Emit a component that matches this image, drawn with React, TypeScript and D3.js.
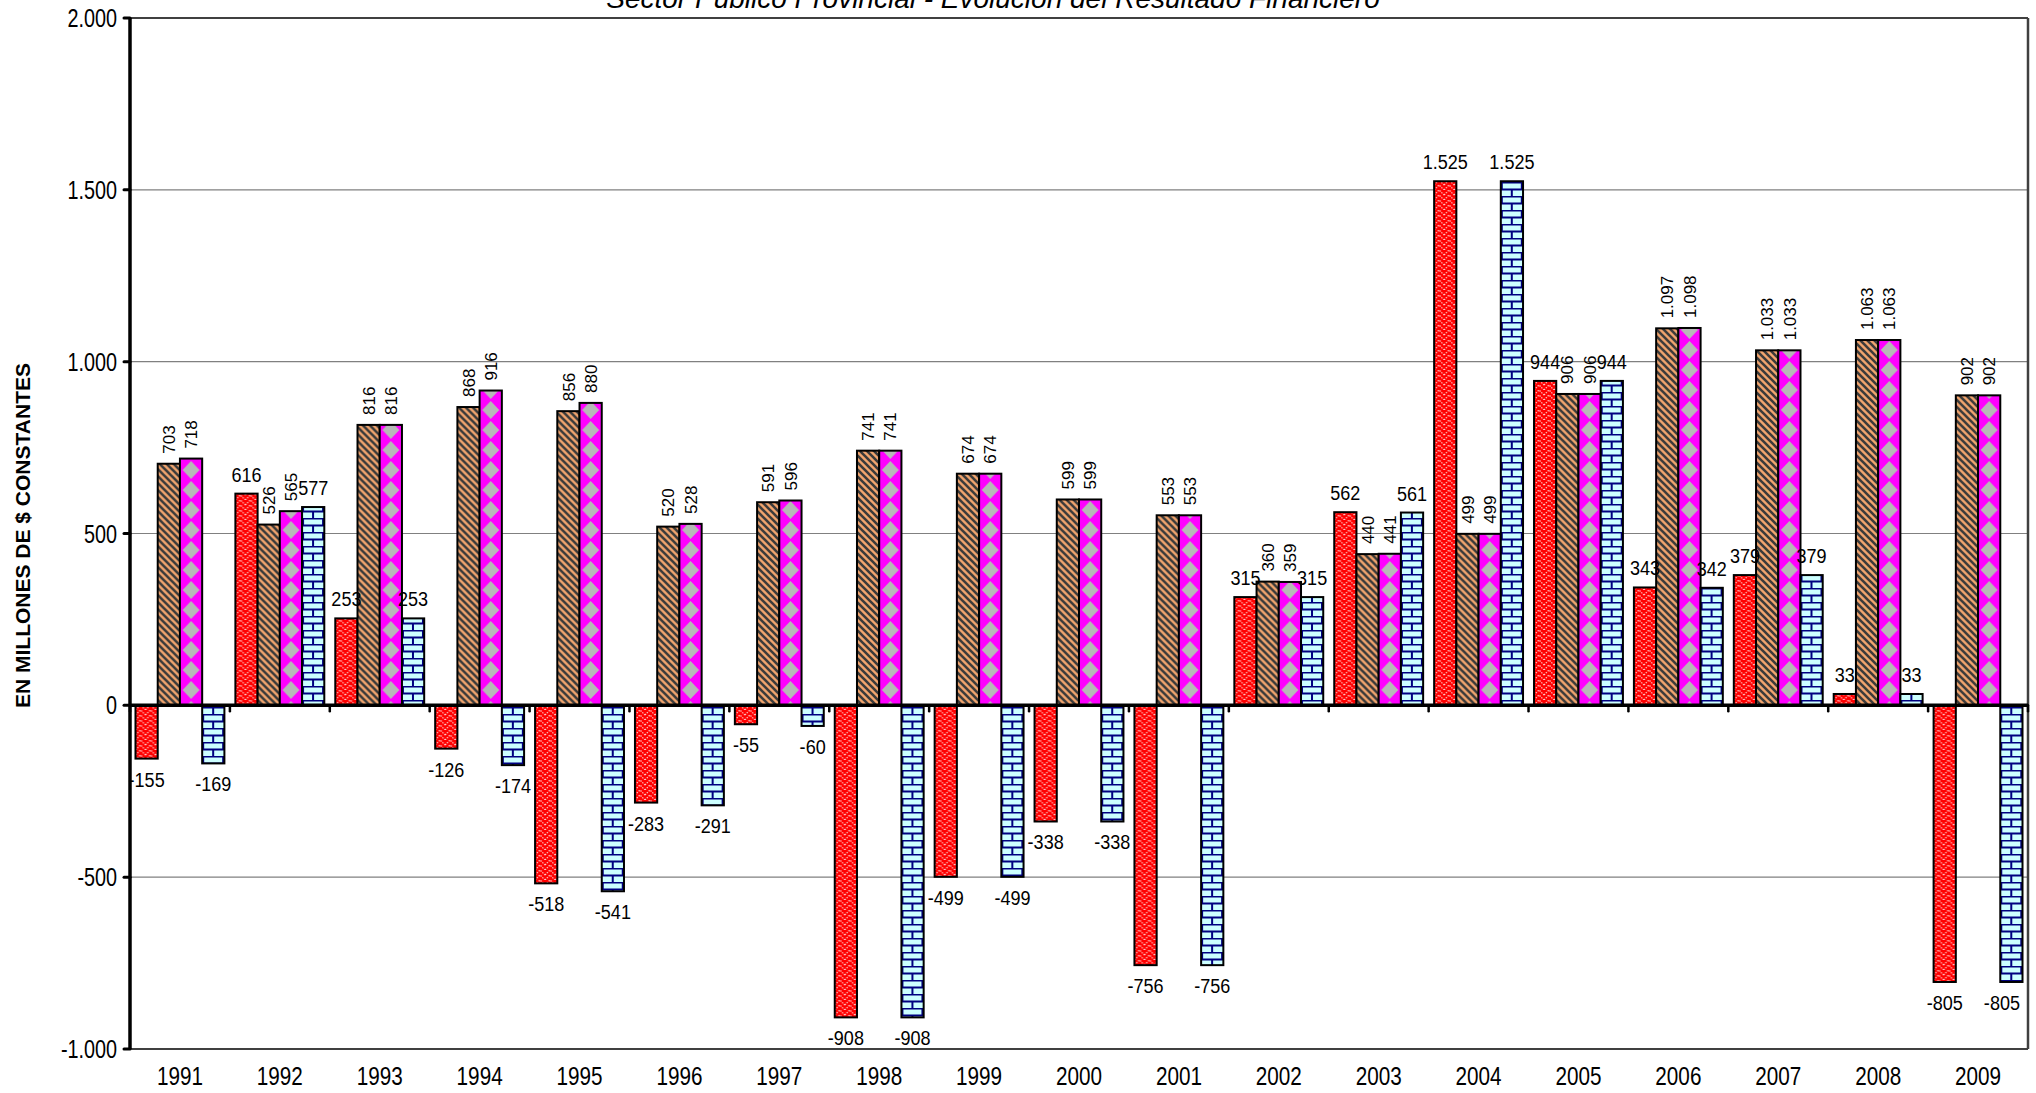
import React from "react";
import * as d3 from "d3";

// Sector Público Provincial - Evolución del Resultado Financiero
const years = [
  "1991", "1992", "1993", "1994", "1995", "1996", "1997", "1998", "1999", "2000",
  "2001", "2002", "2003", "2004", "2005", "2006", "2007", "2008", "2009",
];
const serieRoja = [-155, 616, 253, -126, -518, -283, -55, -908, -499, -338, -756, 315, 562, 1525, 944, 343, 379, 33, -805];
const serieMarron = [703, 526, 816, 868, 856, 520, 591, 741, 674, 599, 553, 360, 440, 499, 906, 1097, 1033, 1063, 902];
const serieMagenta = [718, 565, 816, 916, 880, 528, 596, 741, 674, 599, 553, 359, 441, 499, 906, 1098, 1033, 1063, 902];
const serieAzul = [-169, 577, 253, -174, -541, -291, -60, -908, -499, -338, -756, 315, 561, 1525, 944, 342, 379, 33, -805];
const yTicks = [-1000, -500, 0, 500, 1000, 1500, 2000];

const W = 2036;
const H = 1093;
const margin = { left: 130, right: 8, top: 18, bottom: 44 };
const font = "'Liberation Sans', Arial, sans-serif";

const locale = d3.formatLocale({
  decimal: ",",
  thousands: ".",
  grouping: [3],
  currency: ["$", ""],
  minus: "-",
});
const fmt = locale.format(",d");

// text a bit taller than wide, like the original export
function T(props: { x: number; y: number; size: number; anchor?: string; sx?: number; sy?: number; children: any }) {
  const { x, y, size, anchor = "middle", sx = 0.9, sy = 1.15, children } = props;
  return (
    <g transform={`translate(${x},${y}) scale(${sx},${sy})`}>
      <text fontSize={size} textAnchor={anchor}>
        {children}
      </text>
    </g>
  );
}

export default function App() {
  const x0 = d3
    .scaleBand<string>()
    .domain(years)
    .range([margin.left, W - margin.right])
    .paddingInner(0.11)
    .paddingOuter(0.055);
  const x1 = d3.scaleBand<number>().domain([0, 1, 2, 3]).range([0, x0.bandwidth()]);
  const y = d3.scaleLinear().domain([-1000, 2000]).range([H - margin.bottom, margin.top]);
  const bw = x1.bandwidth();
  const y0 = y(0);
  const step = x0.step();

  const series = [
    { values: serieRoja, fill: "url(#pRed)", vertical: false },
    { values: serieMarron, fill: "url(#pBrown)", vertical: true },
    { values: serieMagenta, fill: "url(#pMag)", vertical: true },
    { values: serieAzul, fill: "url(#pBlue)", vertical: false },
  ];

  const left = margin.left;
  const right = W - margin.right;

  const bars: JSX.Element[] = [];
  const labels: JSX.Element[] = [];
  series.forEach((s, si) => {
    s.values.forEach((v, i) => {
      const bx = (x0(years[i]) as number) + (x1(si) as number);
      const top = Math.min(y(v), y0);
      const h = Math.abs(y(v) - y0);
      bars.push(
        <g key={`b${si}-${i}`} transform={`translate(${bx},0)`}>
          <rect x={0} y={top} width={bw} height={h} fill={s.fill} stroke="#000" strokeWidth={2} />
        </g>
      );
      const cx = bx + bw / 2;
      const txt = fmt(v);
      if (s.vertical && v >= 0) {
        labels.push(
          <text
            key={`l${si}-${i}`}
            transform={`translate(${cx},${y(v) - 10}) rotate(-90)`}
            dy="0.36em"
            fontSize={17}
            textAnchor="start"
          >
            {txt}
          </text>
        );
      } else {
        const half = (txt.length * 0.556 * 19 * 0.95) / 2;
        const lx = Math.min(cx, right - 6 - half);
        labels.push(
          <T key={`l${si}-${i}`} x={lx} y={v >= 0 ? y(v) - 12 : y(v) + 28} size={19} sx={0.95} sy={1.08}>
            {txt}
          </T>
        );
      }
    });
  });

  return (
    <svg
      width={W}
      height={H}
      style={{ position: "absolute", left: 0, top: 0, background: "#fff" }}
      fontFamily={font}
    >
      <defs>
        <pattern id="pRed" patternUnits="userSpaceOnUse" width={10} height={10}>
          <rect width={10} height={10} fill="#FF0000" />
          <path
            d="M0,10 L5,5 L10,10 M0,5 L5,0 L10,5"
            fill="none"
            stroke="#FFC4C4"
            strokeWidth={1.3}
            strokeDasharray="1.4 1.2"
          />
        </pattern>
        <pattern id="pBrown" patternUnits="userSpaceOnUse" width={7} height={7}>
          <rect width={7} height={7} fill="#F2A56E" />
          <path d="M-7,0 L7,14 M0,0 L7,7 M0,-7 L14,7" stroke="#3A3A3A" strokeWidth={2.6} />
        </pattern>
        <pattern id="pMag" patternUnits="userSpaceOnUse" width={bw} height={20}>
          <rect width={bw} height={20} fill="#FF00FF" />
          <path
            d={`M${bw / 2},1 L${bw / 2 + 8.5},10 L${bw / 2},19 L${bw / 2 - 8.5},10 Z`}
            fill="#B8B8B8"
          />
        </pattern>
        <pattern id="pBlue" patternUnits="userSpaceOnUse" width={20} height={14}>
          <rect width={20} height={14} fill="#CCFFFF" />
          <path d="M0,0.5 H20 M0,7.5 H20 M1,0 V7 M11,7 V14" stroke="#000080" strokeWidth={2} />
        </pattern>
      </defs>

      <text x={993} y={8} fontSize={28} fontStyle="italic" textAnchor="middle">
        Sector Público Provincial - Evolución del Resultado Financiero
      </text>

      {/* grid */}
      {yTicks
        .filter((t) => t !== 0 && t !== 2000 && t !== -1000)
        .map((t) => (
          <line key={t} x1={left} x2={right} y1={y(t)} y2={y(t)} stroke="#808080" strokeWidth={1.2} />
        ))}

      {bars}
      {labels}

      {/* plot border */}
      <line x1={left} x2={right} y1={y(2000)} y2={y(2000)} stroke="#404040" strokeWidth={2} />
      <line x1={left} x2={right} y1={y(-1000)} y2={y(-1000)} stroke="#404040" strokeWidth={2} />
      <line x1={right} x2={right} y1={y(2000)} y2={y(-1000)} stroke="#404040" strokeWidth={2.5} />

      {/* zero line + category ticks */}
      <line x1={left} x2={right} y1={y0} y2={y0} stroke="#000" strokeWidth={3.5} />
      {d3.range(years.length + 1).map((i) => (
        <line
          key={i}
          x1={left + i * step}
          x2={left + i * step}
          y1={y0}
          y2={y0 + 6}
          stroke="#000"
          strokeWidth={2.5}
          strokeLinecap="round"
        />
      ))}

      {/* y axis */}
      <line x1={left} x2={left} y1={y(2000)} y2={y(-1000)} stroke="#000" strokeWidth={3.5} />
      {yTicks.map((t) => (
        <g key={t}>
          <line x1={left - 6} x2={left} y1={y(t)} y2={y(t)} stroke="#000" strokeWidth={3} strokeLinecap="round" />
          <T x={left - 13} y={y(t) + 9} size={22} anchor="end">
            {fmt(t)}
          </T>
        </g>
      ))}

      {/* x labels */}
      {years.map((yr) => (
        <T key={yr} x={(x0(yr) as number) + x0.bandwidth() / 2} y={1085} size={23} sy={1.1}>
          {yr}
        </T>
      ))}

      <text
        transform={`translate(22,${(y(2000) + y(-1000)) / 2 + 2}) rotate(-90)`}
        dy="0.36em"
        fontSize={21}
        fontWeight="bold"
        textAnchor="middle"
      >
        EN MILLONES DE $ CONSTANTES
      </text>
    </svg>
  );
}
